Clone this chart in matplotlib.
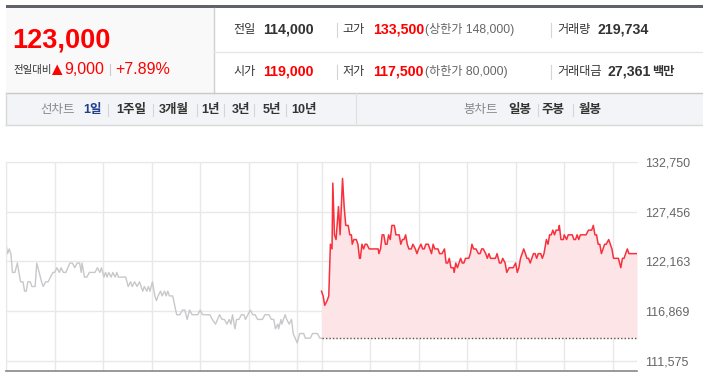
import matplotlib
matplotlib.use("Agg")
import matplotlib.pyplot as plt
from matplotlib.patches import Rectangle
from matplotlib.ticker import FuncFormatter

plt.rcParams['font.family'] = ['Liberation Sans', 'Noto Sans CJK KR', 'DejaVu Sans']

# quote summary
price_now = "123,000"
change_abs = "9,000"
change_pct = "+7.89%"
row1 = [("전일", "114,000", "#333333"), ("고가", "133,500", "#ff0000"), ("거래량", "219,734", "#333333")]
row2 = [("시가", "119,000", "#ff0000"), ("저가", "117,500", "#ff0000"), ("거래대금", "27,361", "#333333")]
limit_texts = ["(상한가 148,000)", "(하한가 80,000)"]
line_tabs = ["1일", "1주일", "3개월", "1년", "3년", "5년", "10년"]
candle_tabs = ["일봉", "주봉", "월봉"]

# intraday data: minutes from 9:00 (previous day 0-390, today 390-780)
prev_min = [0, 2, 4, 6, 8, 11, 14, 16, 18, 21, 23, 25, 27, 30, 32, 36, 38, 41, 44, 46,
            49, 52, 55, 58, 60, 63, 66, 68, 71, 74, 79, 82, 85, 88, 91, 93, 94, 97, 100, 103,
            110, 113, 116, 118, 121, 123, 125, 127, 130, 132, 135, 137, 139, 148, 151, 154, 156, 159, 162, 165,
            169, 171, 174, 176, 178, 181, 184, 186, 188, 191, 193, 196, 198, 200, 202, 206, 211, 215, 218, 221,
            224, 227, 230, 237, 240, 243, 252, 255, 259, 264, 267, 270, 273, 276, 278, 280, 283, 285, 288, 291,
            294, 296, 299, 302, 305, 308, 311, 317, 320, 325, 328, 331, 333, 336, 337, 340, 341, 345, 347, 350,
            353, 355, 360, 363, 368, 370, 376, 379, 385, 388, 390]
prev_price = [124000, 123000, 123500, 123000, 121000, 121000, 122000, 121000, 120000, 120000,
              119000, 119000, 120000, 120000, 119500, 119500, 122000, 121000, 120000, 119500,
              120000, 120000, 120500, 121000, 121000, 121500, 121000, 121500, 121000, 121000,
              122000, 122000, 121500, 122000, 122000, 121000, 122000, 120500, 120500, 121000,
              121000, 121500, 121000, 121500, 120500, 121000, 120500, 121000, 120500, 121000,
              120500, 121000, 120500, 120500, 119500, 120000, 119500, 120000, 119500, 120000,
              119000, 119500, 119000, 119500, 119000, 120000, 118500, 118000, 118500, 119000,
              118500, 119000, 118500, 119000, 118500, 118500, 116500, 116500, 117000, 117000,
              116000, 117000, 116500, 116500, 117000, 116500, 116500, 116000, 115500, 116500,
              116000, 116000, 115500, 116000, 115500, 116500, 115000, 116000, 116000, 116500,
              116500, 116000, 116500, 117000, 116500, 116500, 116000, 116000, 116500, 116500,
              116000, 116000, 115000, 115500, 115000, 116000, 115500, 116500, 116000, 115500,
              116000, 114500, 113500, 114500, 114500, 114000, 114000, 114500, 114500, 114000,
              114000]

today_min = [0, 2, 4, 7, 9, 11, 13, 14, 16, 18, 21, 23, 26, 28, 30, 33, 35, 37, 38, 40,
             43, 45, 47, 48, 50, 52, 54, 56, 59, 70, 71, 73, 75, 77, 79, 81, 83, 85, 87, 90,
             92, 96, 98, 100, 102, 104, 106, 108, 111, 113, 116, 118, 120, 123, 125, 127, 129, 132, 136, 138,
             140, 144, 146, 149, 152, 154, 156, 158, 160, 163, 164, 166, 168, 170, 172, 174, 176, 178, 182, 184,
             186, 188, 191, 194, 196, 198, 200, 203, 205, 207, 209, 215, 217, 220, 222, 224, 227, 229, 232, 237,
             240, 242, 244, 246, 250, 252, 254, 256, 258, 260, 262, 264, 266, 268, 271, 273, 275, 278, 280, 282,
             284, 286, 288, 290, 293, 294, 296, 299, 300, 303, 305, 310, 312, 314, 316, 318, 320, 327, 330, 334,
             336, 338, 340, 342, 344, 346, 348, 350, 352, 355, 357, 359, 361, 367, 370, 372, 374, 376, 378, 380,
             390]
today_price = [119000, 118500, 117500, 118000, 118500, 124000, 123500, 130500, 125000, 124500,
               128000, 125000, 131000, 128000, 126000, 126000, 125000, 125000, 124000, 124500,
               124500, 124000, 122500, 122500, 124000, 123500, 124000, 124000, 123500, 123500,
               123000, 123500, 125000, 125000, 124000, 124000, 125000, 124500, 126000, 126000,
               125000, 125000, 124000, 124500, 124500, 125000, 124000, 123500, 123500, 124000,
               123500, 123000, 123500, 124000, 123500, 123500, 124000, 124000, 123000, 124000,
               123500, 123500, 123000, 123000, 123500, 122000, 122000, 122500, 121500, 121500,
               121000, 122000, 121500, 122000, 122500, 122000, 122000, 122500, 122500, 123000,
               124000, 123500, 123500, 123000, 123000, 123500, 123500, 123000, 122500, 123000,
               122500, 122500, 123000, 122000, 122000, 122500, 122000, 121000, 121500, 121500,
               122000, 121000, 121500, 122500, 123500, 123000, 122500, 122500, 122000, 122500,
               123000, 123000, 122500, 123000, 123000, 122500, 123000, 124500, 124000, 125000,
               125000, 125500, 125000, 125500, 125500, 126000, 124500, 124500, 125000, 124500,
               125000, 125000, 124500, 124500, 125000, 124500, 125000, 125000, 125500, 125500,
               126000, 125000, 125000, 124000, 124000, 123000, 123500, 124000, 124000, 124500,
               124000, 123500, 122500, 122500, 121500, 122500, 122500, 123000, 123500, 123000,
               123000]
prev_close = 114000
y_ticks = [111575, 116869, 122163, 127456, 132750]

RED = "#ff0000"
DARK = "#333333"
GRAY = "#666666"

fig = plt.figure(figsize=(7.03, 3.78), dpi=100)
fig.patch.set_facecolor("white")

# header drawn in pixel coordinates
hd = fig.add_axes([0, 0, 1, 1])
hd.set_xlim(0, 703)
hd.set_ylim(378, 0)
hd.axis("off")

hd.add_patch(Rectangle((6, 5), 697, 2.5, color="#5f6268", lw=0))
hd.add_patch(Rectangle((6, 7.5), 208, 85.5, color="#f9f9f9", lw=0))
hd.plot([214, 214], [7.5, 93], color="#d0d0d0", lw=1)
hd.plot([214, 703], [51.5, 51.5], color="#e6e6e6", lw=1)

hd.text(12, 41, price_now, fontsize=19.5, fontweight="bold", color=RED, va="center")
hd.text(13, 69.5, "전일대비", fontsize=7.5, color=DARK, va="center")
hd.fill([52, 62.5, 57.2], [75, 75, 64.5], color=RED, lw=0)
hd.text(64, 69.5, change_abs, fontsize=11.5, color=RED, va="center")
hd.plot([110, 110], [64, 75], color="#cccccc", lw=0.8)
hd.text(115, 69.5, change_pct, fontsize=11.5, color=RED, va="center")

label_x = [233, 342, 557]
value_x = [263, 373, 598]
for yc, row in ((29.5, row1), (72, row2)):
    for (lab, val, col), lx, vx in zip(row, label_x, value_x):
        hd.text(lx, yc, lab, fontsize=8.7, color=DARK, va="center")
        vx2 = 608 if lab == "거래대금" else vx
        hd.text(vx2, yc, val, fontsize=10.2, fontweight="bold", color=col, va="center")
    for sx in (336.5, 550.5):
        hd.plot([sx, sx], [yc - 7, yc + 7], color="#d5d5d5", lw=0.8)
hd.text(425, 29.5, limit_texts[0], fontsize=8.7, color=GRAY, va="center")
hd.text(425, 72, limit_texts[1], fontsize=8.7, color=GRAY, va="center")
hd.text(652, 72, "백만", fontsize=8.8, fontweight="bold", color=DARK, va="center")

# tab bar
hd.add_patch(Rectangle((6, 93), 697, 31.5, facecolor="#f3f4f7", edgecolor="none"))
hd.plot([6, 703], [93, 93], color="#c8c8c8", lw=1)
hd.plot([6, 703], [124.5, 124.5], color="#d8d8d8", lw=1)
hd.plot([6, 6], [93, 124.5], color="#d8d8d8", lw=1)
hd.plot([356, 356], [93, 124.5], color="#e0e0e0", lw=0.8)

ty = 110
hd.text(40, ty, "선차트", fontsize=9, color="#888888", va="center")
tab_x = [83, 116, 159, 201, 232, 263, 291]
for i, (t, x) in enumerate(zip(line_tabs, tab_x)):
    hd.text(x, ty, t, fontsize=9, fontweight="bold",
            color="#1f3f8f" if i == 0 else DARK, va="center")
for sx in (108, 153, 197, 224, 254, 286):
    hd.plot([sx, sx], [104, 116], color="#d5d5d5", lw=0.8)
hd.text(463, ty, "봉차트", fontsize=9, color="#888888", va="center")
for t, x in zip(candle_tabs, [508, 542, 579]):
    hd.text(x, ty, t, fontsize=9, fontweight="bold", color=DARK, va="center")
for sx in (537.5, 573):
    hd.plot([sx, sx], [104, 116], color="#d5d5d5", lw=0.8)

# chart
ax = fig.add_axes([6 / 703, (378 - 371) / 378, (637 - 6) / 703, (371 - 162) / 378])
ax.set_xlim(0, 780)
ax.set_ylim(110511, 132750)
ax.set_xticks([0, 60, 120, 180, 240, 300, 360, 390, 450, 510, 570, 630, 690, 750])
ax.set_yticks(y_ticks)
ax.grid(True, color="#e8e8e8", lw=1)
ax.set_axisbelow(True)
ax.spines["right"].set_visible(False)
ax.spines["left"].set_color("#e8e8e8")
ax.spines["top"].set_color("#e8e8e8")
ax.spines["bottom"].set_color("#888888")
ax.spines["bottom"].set_linewidth(1.2)
ax.yaxis.tick_right()
ax.tick_params(axis="y", length=0, pad=5.8, labelsize=9, labelcolor=GRAY)
ax.tick_params(axis="x", length=0, labelbottom=False)
ax.yaxis.set_major_formatter(FuncFormatter(lambda v, p: f"{v:,.0f}"))

ax.plot(prev_min, prev_price, color="#c8c8cc", lw=1)
t_today = [390 + m for m in today_min]
ax.fill_between(t_today, today_price, prev_close, color="#fde4e6", lw=0)
ax.plot(t_today, today_price, color="#f8303c", lw=1.1)
ax.hlines(prev_close, 390, 780, colors="#555555", linestyles=(0, (1, 1.5)), lw=1)

fig.savefig("out.png", dpi=100)
